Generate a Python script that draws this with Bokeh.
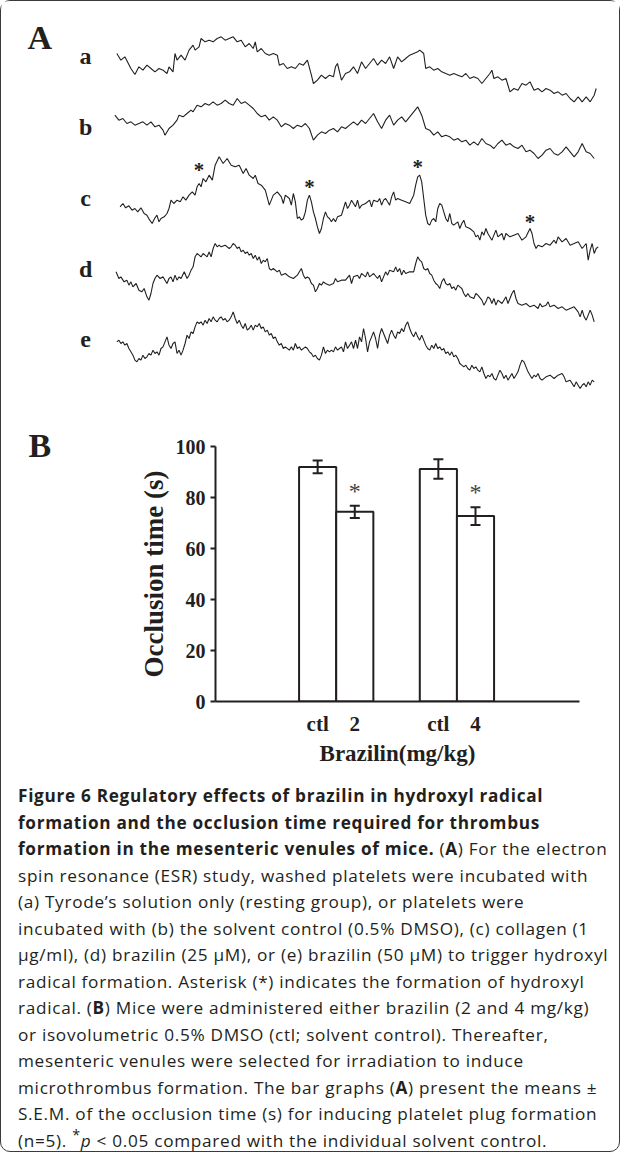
from bokeh.plotting import figure
from bokeh.models import Range1d, FixedTicker, Whisker, ColumnDataSource, Div, TeeHead, Column, Row
from bokeh.core.properties import value
from bokeh.embed import file_html
from bokeh.resources import INLINE

# ---------------- DATA ----------------
# Panel A: ESR traces (field, signal) in arbitrary units
trace_a = [(310,195),(320,215),(330,205),(345,240),(355,258),(365,235),(375,245),(385,230),(395,240),(405,250),(415,240),(425,245),(435,255),(440,235),(450,250),(455,195),(460,215),(470,200),(480,215),(490,185),(500,170),(505,185),(515,175),(520,150),(530,160),(540,155),(550,160),(560,150),(570,145),(580,155),(590,150),(600,145),(610,160),(620,155),(630,175),(640,165),(650,180),(655,160),(660,190),(670,180),(680,195),(690,200),(700,195),(710,200),(715,230),(725,225),(735,240),(745,235),(755,240),(765,225),(775,230),(785,215),(795,260),(800,285),(810,275),(820,260),(830,270),(840,260),(850,265),(855,235),(860,225),(870,275),(880,255),(890,250),(900,235),(910,255),(920,220),(930,240),(940,225),(950,210),(960,230),(970,215),(980,225),(990,205),(1000,240),(1010,205),(1020,220),(1030,210),(1040,200),(1050,195),(1060,190),(1065,185),(1075,195),(1080,240),(1090,235),(1100,245),(1110,240),(1120,250),(1130,255),(1140,260),(1150,255),(1160,260),(1170,265),(1180,255),(1190,270),(1200,265),(1210,270),(1220,285),(1230,270),(1240,255),(1245,245),(1250,270),(1260,265),(1270,275),(1280,270),(1290,310),(1300,300),(1310,305),(1320,285),(1330,290),(1340,280),(1350,305),(1360,300),(1370,310),(1380,300),(1390,305),(1400,315),(1410,310),(1420,320),(1430,315),(1440,330),(1450,340),(1460,325),(1470,340),(1480,325),(1490,340),(1500,320),(1505,300)]
trace_b = [(305,380),(315,395),(325,390),(335,405),(345,400),(355,410),(365,405),(375,400),(385,410),(395,400),(405,415),(415,410),(425,425),(430,440),(440,420),(450,410),(460,395),(465,380),(475,385),(485,375),(495,365),(500,370),(510,350),(520,355),(530,345),(540,350),(550,340),(560,350),(570,345),(580,335),(590,345),(600,350),(610,330),(620,345),(630,340),(640,350),(650,360),(660,375),(670,385),(680,380),(690,395),(700,385),(710,395),(720,415),(730,405),(740,410),(750,420),(760,410),(770,415),(780,405),(790,420),(800,455),(810,440),(820,430),(830,435),(840,425),(850,420),(860,430),(870,415),(880,420),(890,410),(900,400),(910,410),(920,395),(930,405),(940,390),(950,375),(960,400),(970,420),(980,395),(990,380),(1000,410),(1010,395),(1020,385),(1030,400),(1040,385),(1050,370),(1060,355),(1070,380),(1080,420),(1090,425),(1100,440),(1110,430),(1120,445),(1130,440),(1140,445),(1150,455),(1160,450),(1170,460),(1180,455),(1190,470),(1200,460),(1210,470),(1220,450),(1230,465),(1240,470),(1250,480),(1260,465),(1270,455),(1280,470),(1290,465),(1300,475),(1310,480),(1320,470),(1330,490),(1340,485),(1350,495),(1360,510),(1370,500),(1380,485),(1390,480),(1400,495),(1410,500),(1420,490),(1430,475),(1440,490),(1450,505),(1460,490),(1470,465),(1480,490),(1490,495),(1500,510)]
trace_c = [(318,115),(325,105),(332,118),(340,112),(348,125),(355,120),(362,130),(370,118),(378,135),(385,140),(392,155),(398,165),(404,150),(410,140),(415,160),(420,150),(428,145),(435,135),(440,120),(445,95),(452,105),(460,95),(468,100),(475,85),(482,95),(490,80),(498,70),(505,80),(510,55),(515,45),(520,55),(525,30),(532,40),(540,20),(548,35),(555,-10),(565,-35),(575,-15),(585,-30),(595,-10),(605,-5),(615,-10),(625,15),(632,0),(640,20),(650,30),(655,20),(662,45),(670,50),(680,65),(690,110),(700,80),(710,70),(720,85),(725,105),(730,80),(740,90),(745,110),(750,75),(755,100),(760,150),(765,145),(770,155),(775,150),(780,130),(785,95),(790,80),(795,100),(800,130),(805,150),(810,175),(815,195),(820,180),(825,150),(830,130),(835,145),(840,150),(845,160),(850,150),(855,160),(860,145),(870,140),(875,120),(880,100),(885,120),(890,110),(895,95),(905,115),(910,95),(915,120),(920,110),(930,105),(940,95),(945,115),(950,95),(960,100),(965,90),(970,110),(975,95),(980,90),(985,100),(990,110),(995,85),(1000,70),(1005,95),(1010,90),(1020,95),(1030,100),(1040,105),(1050,80),(1055,50),(1060,25),(1065,20),(1070,40),(1075,90),(1080,140),(1085,165),(1090,170),(1095,155),(1100,150),(1105,160),(1110,120),(1115,105),(1120,110),(1125,130),(1130,150),(1135,160),(1140,135),(1145,165),(1150,170),(1160,160),(1165,180),(1170,165),(1175,155),(1180,175),(1190,180),(1200,190),(1205,205),(1210,200),(1215,215),(1220,190),(1225,200),(1230,180),(1235,195),(1245,215),(1250,200),(1255,185),(1260,205),(1270,195),(1275,215),(1280,195),(1290,205),(1300,200),(1310,195),(1320,215),(1330,205),(1340,180),(1345,195),(1350,225),(1355,240),(1360,230),(1370,235),(1380,225),(1390,230),(1400,215),(1405,225),(1410,205),(1420,220),(1430,210),(1440,230),(1450,225),(1460,220),(1470,240),(1480,225),(1485,275),(1490,245),(1495,225),(1500,255),(1505,240),(1510,235)]
trace_d = [(308,310),(315,330),(320,325),(328,340),(335,335),(340,350),(345,340),(350,355),(358,345),(365,365),(372,370),(378,360),(385,385),(390,395),(395,375),(400,345),(405,330),(410,320),(418,330),(425,325),(430,335),(435,345),(440,330),(445,325),(450,340),(455,320),(460,335),(465,325),(470,330),(478,310),(485,330),(490,320),(495,305),(500,295),(505,265),(510,255),(515,260),(520,265),(525,255),(530,260),(535,265),(540,250),(545,265),(550,240),(555,225),(560,235),(565,230),(570,235),(580,230),(590,240),(595,235),(600,225),(605,230),(610,240),(615,235),(620,250),(625,245),(630,255),(635,250),(640,260),(645,255),(650,270),(655,260),(660,275),(665,265),(670,285),(675,275),(680,280),(685,270),(690,300),(695,305),(700,300),(710,310),(715,305),(720,320),(730,315),(740,325),(750,330),(760,320),(765,310),(770,300),(775,320),(780,330),(785,325),(790,330),(795,345),(800,350),(805,370),(810,360),(815,345),(820,350),(825,340),(830,345),(840,350),(850,345),(855,330),(860,340),(870,335),(880,335),(890,320),(895,345),(900,325),(910,320),(915,330),(920,315),(925,320),(930,325),(935,310),(940,325),(945,320),(950,315),(960,330),(965,320),(970,340),(975,325),(980,310),(985,320),(990,305),(1000,310),(1005,295),(1010,310),(1015,300),(1020,320),(1025,305),(1030,315),(1040,310),(1050,310),(1055,285),(1060,265),(1065,275),(1070,280),(1075,300),(1080,305),(1085,300),(1090,315),(1095,320),(1100,335),(1105,345),(1110,350),(1115,360),(1120,340),(1125,330),(1130,345),(1135,350),(1140,345),(1145,360),(1150,355),(1155,365),(1160,350),(1165,355),(1170,360),(1175,375),(1180,385),(1185,375),(1190,385),(1200,390),(1205,375),(1210,380),(1220,395),(1225,410),(1230,400),(1235,385),(1240,390),(1245,405),(1250,390),(1255,410),(1260,395),(1270,405),(1275,395),(1280,385),(1285,405),(1290,390),(1295,375),(1300,365),(1305,390),(1310,405),(1320,410),(1330,405),(1340,415),(1350,410),(1360,420),(1365,405),(1370,415),(1380,410),(1385,400),(1390,415),(1400,410),(1410,420),(1420,415),(1430,425),(1440,420),(1450,415),(1460,430),(1465,445),(1470,425),(1475,445),(1480,455),(1485,440),(1490,425),(1495,440),(1500,460)]
trace_e = [(310,520),(315,515),(320,525),(325,520),(330,530),(335,525),(340,540),(345,550),(350,560),(355,575),(360,580),(365,570),(370,575),(375,560),(380,570),(385,565),(390,555),(395,560),(400,545),(405,555),(410,550),(415,560),(420,540),(425,535),(430,520),(435,505),(440,530),(445,540),(450,525),(455,520),(460,555),(465,545),(470,560),(475,545),(480,525),(485,500),(490,510),(495,490),(500,495),(505,475),(510,460),(515,465),(520,460),(525,470),(530,455),(535,465),(540,450),(545,460),(550,445),(555,455),(560,460),(565,450),(570,445),(575,455),(580,450),(585,460),(590,455),(595,445),(600,430),(605,450),(610,465),(615,455),(620,470),(625,480),(630,465),(635,485),(640,480),(645,470),(650,485),(655,470),(660,475),(665,465),(670,480),(675,475),(680,490),(685,485),(690,500),(695,495),(700,510),(705,505),(710,520),(715,530),(720,525),(725,540),(730,535),(740,545),(745,535),(750,545),(755,525),(760,540),(765,535),(770,545),(780,535),(785,540),(790,550),(795,555),(800,565),(805,560),(810,570),(815,575),(820,560),(825,535),(830,555),(835,545),(840,550),(845,545),(850,550),(855,535),(860,545),(865,540),(870,535),(875,550),(880,520),(885,540),(890,530),(895,520),(900,540),(905,515),(910,540),(915,505),(920,520),(925,480),(930,510),(935,550),(940,520),(945,505),(950,490),(955,510),(960,540),(965,500),(970,480),(975,495),(980,510),(985,525),(990,500),(995,485),(1000,500),(1005,510),(1010,490),(1015,495),(1020,480),(1025,490),(1030,470),(1035,460),(1040,480),(1045,495),(1050,505),(1055,490),(1060,505),(1065,515),(1070,500),(1075,515),(1080,530),(1085,540),(1090,545),(1095,530),(1100,540),(1105,525),(1110,540),(1115,535),(1120,545),(1125,540),(1130,555),(1135,550),(1140,560),(1145,550),(1150,565),(1155,560),(1160,570),(1165,585),(1170,590),(1175,595),(1180,590),(1185,600),(1190,605),(1195,590),(1200,600),(1205,595),(1210,605),(1215,610),(1220,595),(1225,615),(1230,630),(1235,620),(1240,625),(1245,615),(1250,630),(1255,635),(1260,620),(1265,605),(1270,615),(1275,630),(1280,620),(1285,635),(1290,625),(1295,615),(1300,630),(1305,620),(1310,610),(1315,590),(1320,575),(1325,580),(1330,595),(1335,610),(1340,620),(1345,630),(1350,620),(1355,625),(1360,615),(1365,630),(1370,635),(1380,625),(1390,620),(1400,630),(1410,620),(1420,615),(1425,625),(1430,640),(1440,635),(1445,645),(1450,655),(1455,640),(1460,650),(1465,660),(1470,650),(1475,645),(1480,655),(1485,640),(1490,650),(1495,635),(1500,640)]
trace_names = ["a", "b", "c", "d", "e"]
# hydroxyl-radical marks on trace c (field, signal)
c_marks = [(515, 0), (790, 51), (1060, -9), (1340, 156)]

# Panel B: occlusion time
groups = ["ctl", "2", "ctl", "4"]
means = [92.0, 74.4, 91.2, 72.7]
sems = [2.5, 2.4, 3.8, 3.5]
significant = [False, True, False, True]
y_ticks = [0, 20, 40, 60, 80, 100]

caption_lines = [
    "<b>Figure 6 Regulatory effects of brazilin in hydroxyl radical</b>",
    "<b>formation and the occlusion time required for thrombus</b>",
    "<b>formation in the mesenteric venules of mice.</b> (<b>A</b>) For the electron",
    "spin resonance (ESR) study, washed platelets were incubated with",
    "(a) Tyrode\u2019s solution only (resting group), or platelets were",
    "incubated with (b) the solvent control (0.5% DMSO), (c) collagen (1",
    "\u00b5g/ml), (d) brazilin (25 \u00b5M), or (e) brazilin (50 \u00b5M) to trigger hydroxyl",
    "radical formation. Asterisk (*) indicates the formation of hydroxyl",
    "radical. (<b>B</b>) Mice were administered either brazilin (2 and 4 mg/kg)",
    "or isovolumetric 0.5% DMSO (ctl; solvent control). Thereafter,",
    "mesenteric venules were selected for irradiation to induce",
    "microthrombus formation. The bar graphs (<b>A</b>) present the means \u00b1",
    "S.E.M. of the occlusion time (s) for inducing platelet plug formation",
    "(n=5). <sup style='line-height:0'>*</sup><i>p</i> &lt; 0.05 compared with the individual solvent control.",
]

# ---------------- STYLE ----------------
INK = "#231f20"
SERIF = "Liberation Serif"
W = 618

# ---------------- PANEL A ----------------
figA = figure(width=W, height=420, x_range=Range1d(22.4, 1563.1), y_range=Range1d(1299, 39),
              output_backend="svg", toolbar_location=None, x_axis_location=None,
              y_axis_location=None, min_border=0, margin=(0, 0, 0, 0), frame_align=False)
figA.grid.visible = False
figA.outline_line_color = None

traces = [trace_a, trace_b, trace_c, trace_d, trace_e]
row_shift = [0, 0, 540, 540, 540]
for tr, sh in zip(traces, row_shift):
    figA.line([p[0] for p in tr], [p[1] + sh for p in tr], line_color=INK, line_width=1.1)

label_y = [222 + i * 213 for i in range(len(trace_names))]
figA.text(x=[232] * len(trace_names), y=label_y, text=trace_names,
          text_font=value(SERIF), text_font_style="bold", text_font_size="24px",
          text_align="center", text_baseline="alphabetic", y_offset=-7, text_color=INK)
figA.text(x=[118], y=[177], text=["A"], text_font=value(SERIF), text_font_style="bold",
          text_font_size="34px", text_align="center", text_baseline="alphabetic",
          y_offset=-10, text_color=INK)
figA.text(x=[m[0] for m in c_marks], y=[m[1] + 540 for m in c_marks], text=["*"] * len(c_marks),
          text_font=value(SERIF), text_font_style="bold", text_font_size="21px",
          text_align="center", text_baseline="alphabetic", y_offset=1, text_color=INK)

# ---------------- PANEL B ----------------
LBL_W = 134
figBL = figure(width=LBL_W, height=355, x_range=Range1d(0, LBL_W), y_range=Range1d(355, 0),
               output_backend="svg", toolbar_location=None, x_axis_location=None,
               y_axis_location=None, min_border=0, margin=(0, 0, 0, 0), frame_align=False)
figBL.grid.visible = False
figBL.outline_line_color = None
figBL.text(x=[27], y=[34], text=["B"], text_font=value(SERIF), text_font_style="bold",
           text_font_size="34px", text_align="left", text_baseline="alphabetic",
           y_offset=-10, text_color=INK)

figB = figure(width=W - LBL_W, height=355, x_range=Range1d(0, 9.8), y_range=Range1d(0, 100),
              output_backend="svg", toolbar_location=None,
              min_border_left=214 - LBL_W, min_border_right=40, min_border_top=25,
              min_border_bottom=75, margin=(0, 0, 0, 0), frame_align=False)
figB.grid.visible = False
figB.outline_line_color = None

pos = [2.75 + i + 1.25 * (i // 2) for i in range(len(groups))]
src = ColumnDataSource(dict(x=pos, top=means, upper=[m + s for m, s in zip(means, sems)],
                            lower=[m - s for m, s in zip(means, sems)]))
figB.vbar(x="x", top="top", bottom=0, width=1.0, source=src, fill_color="white",
          line_color=INK, line_width=2)
wh = Whisker(source=src, base="x", upper="upper", lower="lower", line_color=INK, line_width=2,
             upper_head=TeeHead(size=10, line_width=2, line_color=INK),
             lower_head=TeeHead(size=10, line_width=2, line_color=INK), level="overlay")
figB.add_layout(wh)

sx = [p for p, s in zip(pos, significant) if s]
sy = [m + e + 7 for m, e, s in zip(means, sems, significant) if s]
figB.text(x=sx, y=sy, text=["*"] * len(sx), text_font=value(SERIF), text_font_size="24px",
          text_align="center", text_baseline="alphabetic", y_offset=3, text_color="#444444")

ya = figB.yaxis[0]
ya.ticker = FixedTicker(ticks=y_ticks)
ya.minor_tick_line_color = None
ya.major_tick_out = 5
ya.major_tick_in = 0
ya.major_tick_line_width = 2
ya.axis_line_width = 2
ya.axis_line_color = INK
ya.major_tick_line_color = INK
ya.major_label_text_font = SERIF
ya.major_label_text_font_style = "bold"
ya.major_label_text_font_size = "20px"
ya.major_label_text_color = INK
ya.major_label_standoff = 5
ya.axis_label = "Occlusion time (s)"
ya.axis_label_text_font = SERIF
ya.axis_label_text_font_style = "bold"
ya.axis_label_text_font_size = "27px"
ya.axis_label_text_color = INK
ya.axis_label_standoff = 4

xa = figB.xaxis[0]
xa.ticker = FixedTicker(ticks=pos)
xa.major_label_overrides = {p: g for p, g in zip(pos, groups)}
xa.minor_tick_line_color = None
xa.major_tick_out = 0
xa.major_tick_in = 0
xa.axis_line_width = 2
xa.axis_line_color = INK
xa.major_label_text_font = SERIF
xa.major_label_text_font_style = "bold"
xa.major_label_text_font_size = "21px"
xa.major_label_text_color = INK
xa.major_label_standoff = 10
xa.axis_label = "Brazilin(mg/kg)"
xa.axis_label_text_font = SERIF
xa.axis_label_text_font_style = "bold"
xa.axis_label_text_font_size = "23px"
xa.axis_label_text_color = INK
xa.axis_label_standoff = 2

panelB = Row(children=[figBL, figB], spacing=0, margin=(0, 0, 0, 0))

# ---------------- CAPTION ----------------
cap_html = ("<div style=\"font-family:'Open Sans';font-size:17.2px;line-height:26.5px;"
            "letter-spacing:0.7px;color:#231f20;padding:7px 0 0 17px;white-space:nowrap;\">"
            + "<br>".join(caption_lines) + "</div>")
caption = Div(text=cap_html, width=W, height=375, margin=(0, 0, 0, 0))

page = Column(children=[figA, panelB, caption], spacing=0, margin=(0, 0, 0, 0),
              styles={"border": "1.5px solid #3a3a3a", "border-radius": "10px"})

open("out.html", "w").write(file_html(page, INLINE))
